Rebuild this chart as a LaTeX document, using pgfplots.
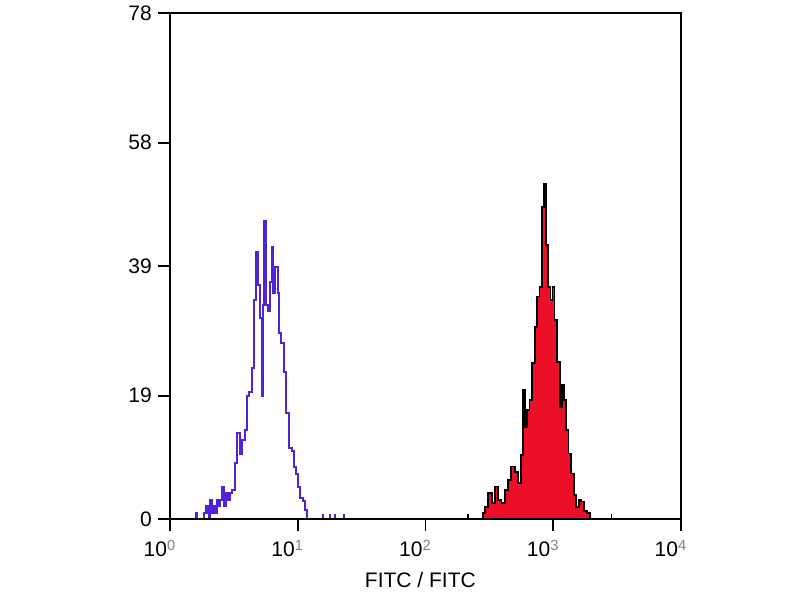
\documentclass[border=0pt]{standalone}
\usepackage{fontspec}
\setmainfont{Liberation Sans}
\usepackage{pgfplots}
\pgfplotsset{compat=1.18}

\definecolor{histblue}{RGB}{80,35,215}
\definecolor{histred}{RGB}{235,15,40}

\begin{document}
\begin{tikzpicture}
\useasboundingbox (0,0) rectangle (600pt,450pt);
\begin{axis}[
    at={(127.5pt,60.75pt)}, anchor=south west,
    scale only axis,
    width=383.25pt, height=379.5pt,
    xmin=0, xmax=4, ymin=0, ymax=78,
    xtick={0,1,2,3,4},
    xticklabels={10\rlap{\textsuperscript{\color{gray}0}},
                 10\rlap{\textsuperscript{\color{gray}1}},
                 10\rlap{\textsuperscript{\color{gray}2}},
                 10\rlap{\textsuperscript{\color{gray}3}},
                 10\rlap{\textsuperscript{\color{gray}4}}},
    ytick={0,19,39,58,78},
    xtick pos=bottom, ytick pos=left,
    minor tick num=0,
    tick align=outside,
    major tick length=9pt,
    tick style={line width=1.2pt, black},
    axis line style={line width=1.4pt},
    axis on top=true,
    /pgf/number format/assume math mode=true,
    ticklabel style={font=\fontsize{15.75}{18}\selectfont},
    xticklabel style={anchor=base east, inner sep=0pt, xshift=-2pt, yshift=-19.5pt},
    yticklabel style={anchor=east, inner sep=0pt, xshift=-4.5pt},
    xlabel={FITC / FITC},
    xlabel style={font=\fontsize{15.75}{18}\selectfont,
                  at={(axis description cs:0.49,0)}, anchor=base, yshift=-51.75pt},
]
% isotype control (blue outline)
\addplot[const plot, histblue, line width=1.5pt] coordinates {
 (0.18,0)(0.205,1)(0.215,0)
 (0.265,1)(0.28,2)(0.295,1)(0.305,0)(0.315,3)(0.33,1)(0.345,2)(0.355,1)
 (0.365,3)(0.38,2)(0.39,3)(0.405,5)(0.425,2)(0.44,4)(0.455,3)(0.47,4)
 (0.485,4.5)(0.505,8.6)(0.525,13.2)(0.545,10)(0.565,12.2)(0.585,13.7)
 (0.605,18.9)(0.62,19.6)(0.64,23.3)(0.66,33.8)(0.675,41.2)(0.69,36)
 (0.705,31)(0.72,18.9)(0.728,33)(0.738,46)(0.75,33)(0.765,32)(0.78,36.6)
 (0.795,42)(0.81,34.8)(0.825,38.9)(0.843,34.8)(0.855,28.6)(0.87,27.1)
 (0.89,22.7)(0.91,16.3)(0.93,10.9)(0.955,10.5)(0.97,8)(0.99,7)(1.005,5)
 (1.02,3.2)(1.04,2.7)(1.055,1.4)(1.07,0)
};
\addplot[ycomb, histblue, line width=1.5pt, mark=none] coordinates {
 (1.198,0.8)(1.252,0.8)(1.292,0.8)(1.362,0.8)
};
% stained sample (red filled)
\addplot[const plot, fill=histred, draw=black, line width=1.3pt] coordinates {
 (2.45,0)(2.45,0.9)(2.465,1.9)(2.49,4.0)(2.52,2.5)(2.545,5.0)(2.57,2.9)
 (2.595,2.5)(2.62,4.5)(2.645,6.0)(2.67,8.1)(2.70,7.3)(2.725,5.6)(2.745,9.9)
 (2.762,19.9)(2.78,14.2)(2.795,16.8)(2.815,18.3)(2.833,24)(2.855,29.6)
 (2.873,34.3)(2.892,35.8)(2.91,48.1)(2.926,51.7)(2.944,42.2)(2.96,35.8)
 (2.978,33.8)(2.995,35.8)(3.01,30.7)(3.03,24.2)(3.05,17.3)(3.066,20.7)
 (3.083,18.3)(3.1,13.7)(3.12,10.1)(3.14,7.0)(3.16,3.7)(3.18,1.9)(3.2,3.0)
 (3.218,2.7)(3.24,1.2)(3.265,0.9)(3.285,0)
} \closedcycle;
\addplot[ycomb, black, line width=1.3pt, mark=none] coordinates {
 (2.335,0.8)(3.455,0.8)
};
\end{axis}
\end{tikzpicture}
\end{document}
